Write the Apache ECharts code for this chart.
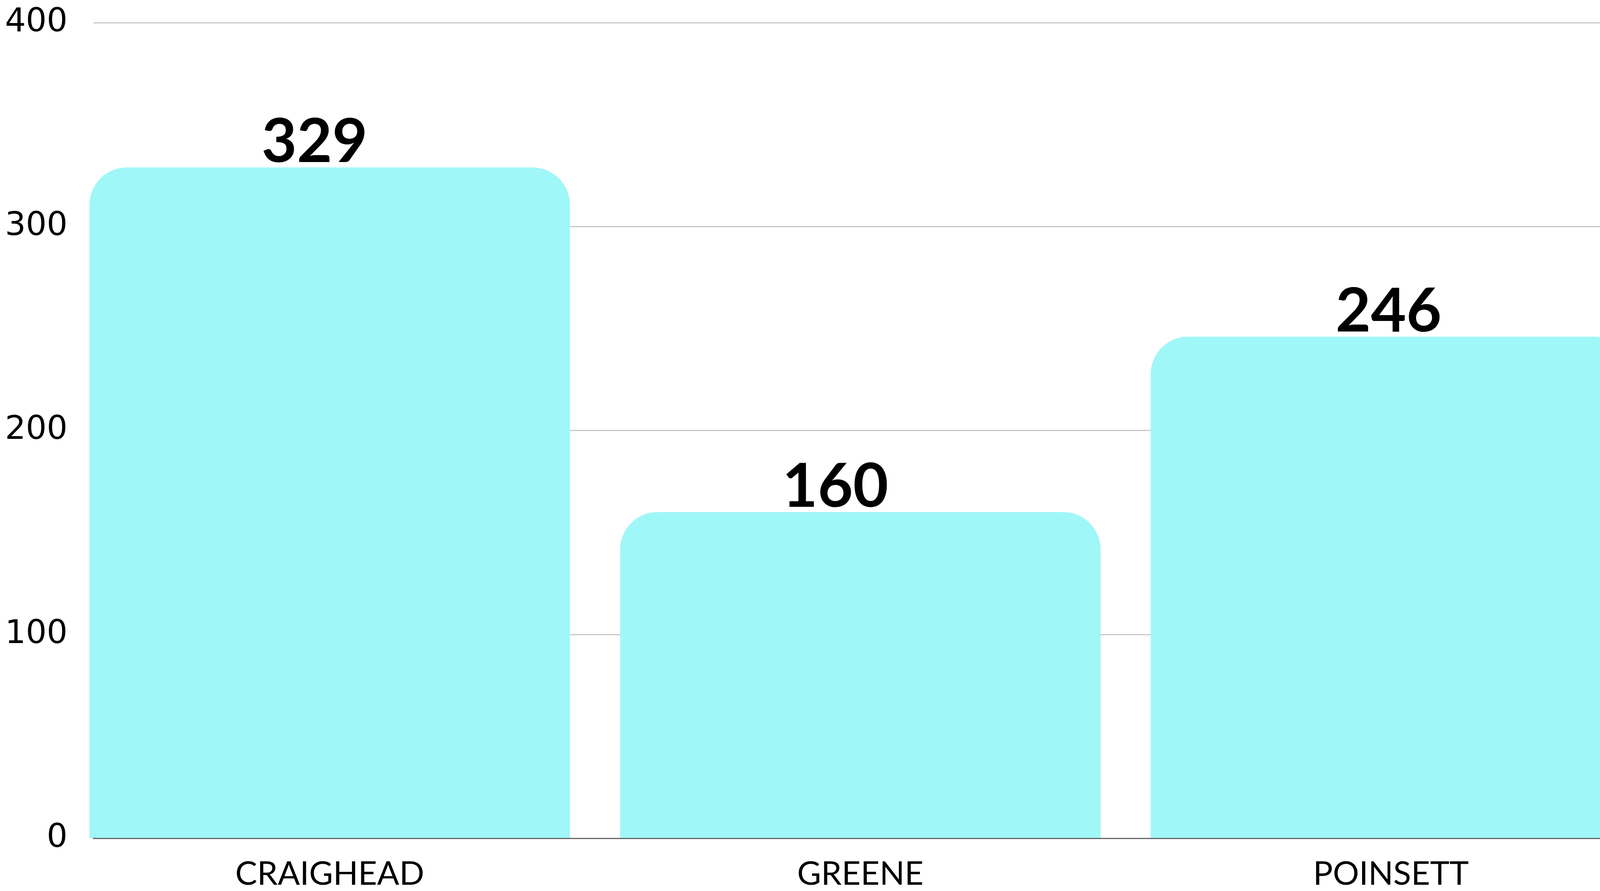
<!DOCTYPE html>
<html><head><meta charset="utf-8">
<script src="https://cdn.jsdelivr.net/npm/echarts@6/dist/echarts.min.js"></script>
<style>html,body{margin:0;padding:0;background:#fff}#c{width:4240px;height:2282px}</style>
</head><body><div id="c"></div>
<script>
const categories = ["CRAIGHEAD", "GREENE", "POINSETT"];
const values = [329, 160, 246];
const yTicks = [0, 100, 200, 300, 400];

// label horizontal nudges (style only)
const labelShiftX = [-39, -64, -6];

const chart = echarts.init(document.getElementById('c'));
const FONT = 'Lato';
chart.setOption({
  animation: false,
  backgroundColor: '#ffffff',
  grid: [
    { left: 165, right: -59, top: 58, bottom: 135 },
    { left: 239, right: 16, top: 58, bottom: 135 }
  ],
  xAxis: [
    { type: 'category', gridIndex: 0, data: categories,
      axisLine: { show: false }, axisTick: { show: false },
      axisLabel: { color: '#000', fontFamily: FONT, fontSize: 84, margin: 50 } },
    { type: 'value', gridIndex: 1, min: 0, max: 1, z: 5,
      axisLine: { show: true, onZero: false, lineStyle: { color: '#666', width: 3 } },
      axisTick: { show: false }, axisLabel: { show: false }, splitLine: { show: false } }
  ],
  yAxis: [
    { type: 'value', gridIndex: 0, min: yTicks[0], max: yTicks[yTicks.length - 1], interval: 100,
      axisLine: { show: false }, axisTick: { show: false }, axisLabel: { show: false }, splitLine: { show: false } },
    { type: 'value', gridIndex: 1, min: yTicks[0], max: yTicks[yTicks.length - 1], interval: 100,
      axisLine: { show: false }, axisTick: { show: false },
      axisLabel: { color: '#000', fontFamily: 'DejaVu Sans', fontSize: 84, margin: 66 },
      splitLine: { show: true, lineStyle: { color: '#c8c8c8', width: 3 } } }
  ],
  series: [{
    type: 'bar', xAxisIndex: 0, yAxisIndex: 0, barWidth: 1230, z: 3,
    data: values.map((v, i) => ({ value: v, label: { offset: [labelShiftX[i], 0] } })),
    itemStyle: { color: '#A0F7F7', borderRadius: [96, 96, 0, 0] },
    label: { show: true, position: 'top', distance: -14, color: '#000', fontFamily: FONT,
      fontWeight: 'bold', fontSize: 156 }
  }]
});
</script></body></html>
